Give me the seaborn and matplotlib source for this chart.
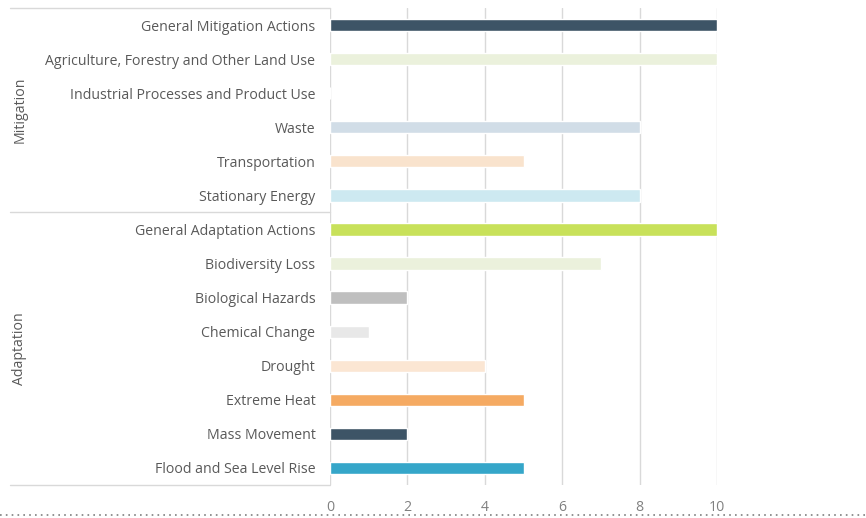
import matplotlib
matplotlib.use("Agg")
import matplotlib.pyplot as plt
import matplotlib.transforms as mtransforms
from matplotlib.lines import Line2D
import pandas as pd
import seaborn as sns

# Chart data
categories = [
    "General Mitigation Actions",
    "Agriculture, Forestry and Other Land Use",
    "Industrial Processes and Product Use",
    "Waste",
    "Transportation",
    "Stationary Energy",
    "General Adaptation Actions",
    "Biodiversity Loss",
    "Biological Hazards",
    "Chemical Change",
    "Drought",
    "Extreme Heat",
    "Mass Movement",
    "Flood and Sea Level Rise",
]
values = [10, 10, 0, 8, 5, 8, 10, 7, 2, 1, 4, 5, 2, 5]
groups = ["Mitigation"] * 6 + ["Adaptation"] * 8
bar_colors = [
    "#3d5466", "#ebf1dc", "#ffffff", "#d1dde7", "#f9e3cd", "#cde9f1",
    "#c8e15a", "#ebf1dc", "#bfbfbf", "#e8e8e8", "#fbe6d3", "#f5aa62",
    "#3d5466", "#35a6c9",
]
x_ticks = [0, 2, 4, 6, 8, 10]

df = pd.DataFrame({"category": categories, "value": values, "group": groups})

sns.set_style("white")
plt.rcParams["font.family"] = ["Open Sans", "DejaVu Sans"]

fig = plt.figure(figsize=(8.66, 5.18), dpi=100)
ax = fig.add_axes([330 / 866, 33 / 518, 387 / 866, 477 / 518])

# Bars
sns.barplot(data=df, y="category", x="value", hue="category",
            palette=dict(zip(categories, bar_colors)), legend=False,
            orient="h", width=0.36, saturation=1, ax=ax)

ax.set_xlim(0, 10)
ax.set_ylim(len(categories) - 0.5, -0.5)
ax.set_xticks(x_ticks)
ax.set_xlabel("")
ax.set_ylabel("")
ax.grid(axis="x", color="#d9d9d9", linewidth=1)
ax.set_axisbelow(True)
for s in ax.spines.values():
    s.set_visible(False)
ax.tick_params(axis="y", length=0, pad=10.5, labelsize=10.2, labelcolor="#595959")
ax.tick_params(axis="x", length=0, pad=11, labelsize=10.2, labelcolor="#808080")

# Group box lines on the label side
trans = mtransforms.blended_transform_factory(fig.transFigure, ax.transData)
for yv in [-0.5, 5.5, 13.5]:
    ax.add_line(Line2D([10 / 866, 330 / 866], [yv, yv], transform=trans,
                       color="#d9d9d9", linewidth=1, clip_on=False))

# Group labels
ax.text(20 / 866, 2.5, "Mitigation", transform=trans, rotation=90,
        ha="center", va="center", fontsize=10.2, color="#595959")
ax.text(20 / 866, 9.5, "Adaptation", transform=trans, rotation=90,
        ha="center", va="center", fontsize=10.2, color="#595959")

# Dotted rule along the bottom
fig.add_artist(Line2D([0, 1], [3 / 518, 3 / 518], transform=fig.transFigure,
                      color="#7f7f7f", linewidth=1.2, linestyle=(0, (1, 2.5))))

fig.savefig("out.png", dpi=100, facecolor="white")
